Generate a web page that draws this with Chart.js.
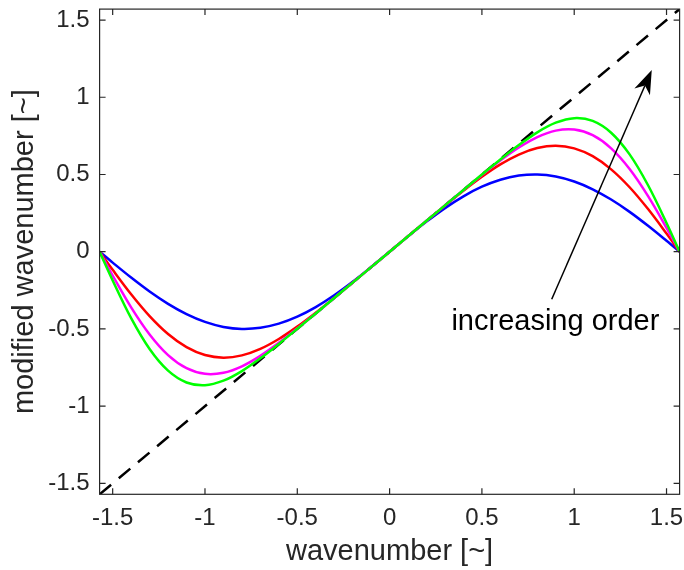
<!DOCTYPE html>
<html>
<head>
<meta charset="utf-8">
<title>modified wavenumber</title>
<script src="https://cdn.jsdelivr.net/npm/chart.js@4"></script>
<style>
  body { margin: 0; background: #fff; }
  #wrap { width: 684px; height: 570px; }
</style>
</head>
<body>
<div id="wrap"><canvas id="waveChart" width="684" height="570"></canvas></div>
<script>
// wavenumber samples (-pi/2 .. pi/2)
const waveX = [-1.5708, -1.5, -1.4, -1.3, -1.2, -1.1, -1.0, -0.9, -0.8, -0.7, -0.6, -0.5, -0.4, -0.3, -0.2, -0.1,
    0, 0.1, 0.2, 0.3, 0.4, 0.5, 0.6, 0.7, 0.8, 0.9, 1.0, 1.1, 1.2, 1.3, 1.4, 1.5, 1.5708];

// modified wavenumber for each scheme order
const order2 = [0, -0.0706, -0.1675, -0.2578, -0.3377, -0.4043, -0.4547, -0.4869, -0.4998, -0.4927, -0.4660, -0.4207, -0.3587, -0.2823, -0.1947, -0.0993,
    0, 0.0993, 0.1947, 0.2823, 0.3587, 0.4207, 0.4660, 0.4927, 0.4998, 0.4869, 0.4547, 0.4043, 0.3377, 0.2578, 0.1675, 0.0706, 0];
const order4 = [0, -0.1174, -0.2759, -0.4173, -0.5333, -0.6183, -0.6693, -0.6861, -0.6712, -0.6291, -0.5651, -0.4852, -0.3949, -0.2988, -0.1998, -0.1000,
    0, 0.1000, 0.1998, 0.2988, 0.3949, 0.4852, 0.5651, 0.6291, 0.6712, 0.6861, 0.6693, 0.6183, 0.5333, 0.4173, 0.2759, 0.1174, 0];
const order6 = [0, -0.1546, -0.3602, -0.5358, -0.6693, -0.7543, -0.7908, -0.7839, -0.7418, -0.6743, -0.5903, -0.4971, -0.3993, -0.2999, -0.2000, -0.1000,
    0, 0.1000, 0.2000, 0.2999, 0.3993, 0.4971, 0.5903, 0.6743, 0.7418, 0.7839, 0.7908, 0.7543, 0.6693, 0.5358, 0.3602, 0.1546, 0];
const order8 = [0, -0.1864, -0.4303, -0.6301, -0.7705, -0.8469, -0.8646, -0.8353, -0.7730, -0.6904, -0.5972, -0.4994, -0.3999, -0.3000, -0.2000, -0.1000,
    0, 0.1000, 0.2000, 0.3000, 0.3999, 0.4994, 0.5972, 0.6904, 0.7730, 0.8353, 0.8646, 0.8469, 0.7705, 0.6301, 0.4303, 0.1864, 0];

// exact (dashed) line
const exactX = [-1.5708, 1.5708];
const exactY = [-1.5708, 1.5708];

const xTickValues = [-1.5, -1, -0.5, 0, 0.5, 1, 1.5];
const yTickValues = [-1.5, -1, -0.5, 0, 0.5, 1, 1.5];

// annotation (data units)
const arrowFrom = [0.878, -0.308];
const arrowTo = [1.420, 1.177];
const noteAt = [0.898, -0.507];
const noteText = 'increasing order';

const FONT = '"Liberation Sans", Arial, Helvetica, sans-serif';
const AXIS_COLOR = '#262626';

function toPoints(xs, ys) {
    return xs.map((x, i) => ({ x: x, y: ys[i] }));
}

function curve(ys, color) {
    return {
        data: toPoints(waveX, ys),
        borderColor: color,
        borderWidth: 2.5,
        pointRadius: 0,
        tension: 0.33,
        fill: false
    };
}

// keep the plot box where the reference has it
function noPadding(s) {
    s.paddingLeft = 0;
    s.paddingRight = 0;
    s.paddingTop = 0;
    s.paddingBottom = 0;
}

// box, inward ticks, arrow and text
const framePlugin = {
    id: 'frame',
    afterDatasetsDraw(chart) {
        const { ctx, chartArea: a, scales } = chart;
        const sx = scales.x, sy = scales.y;
        const tick = 6;
        ctx.save();
        ctx.strokeStyle = AXIS_COLOR;
        ctx.lineWidth = 1.2;
        ctx.strokeRect(a.left, a.top, a.right - a.left, a.bottom - a.top);
        ctx.beginPath();
        xTickValues.forEach(v => {
            const px = sx.getPixelForValue(v);
            ctx.moveTo(px, a.bottom); ctx.lineTo(px, a.bottom - tick);
            ctx.moveTo(px, a.top); ctx.lineTo(px, a.top + tick);
        });
        yTickValues.forEach(v => {
            const py = sy.getPixelForValue(v);
            ctx.moveTo(a.left, py); ctx.lineTo(a.left + tick, py);
            ctx.moveTo(a.right, py); ctx.lineTo(a.right - tick, py);
        });
        ctx.stroke();

        // arrow
        const x0 = sx.getPixelForValue(arrowFrom[0]), y0 = sy.getPixelForValue(arrowFrom[1]);
        const x1 = sx.getPixelForValue(arrowTo[0]), y1 = sy.getPixelForValue(arrowTo[1]);
        const ang = Math.atan2(y1 - y0, x1 - x0);
        const ux = Math.cos(ang), uy = Math.sin(ang);
        const nx = -uy, ny = ux;
        const headLen = 24, headHalf = 8.5, notch = 17;
        ctx.strokeStyle = '#000';
        ctx.fillStyle = '#000';
        ctx.lineWidth = 1.5;
        ctx.beginPath();
        ctx.moveTo(x0, y0);
        ctx.lineTo(x1 - ux * notch, y1 - uy * notch);
        ctx.stroke();
        ctx.beginPath();
        ctx.moveTo(x1, y1);
        ctx.lineTo(x1 - ux * headLen + nx * headHalf, y1 - uy * headLen + ny * headHalf);
        ctx.lineTo(x1 - ux * notch, y1 - uy * notch);
        ctx.lineTo(x1 - ux * headLen - nx * headHalf, y1 - uy * headLen - ny * headHalf);
        ctx.closePath();
        ctx.fill();

        // text
        ctx.font = '29px ' + FONT;
        ctx.textAlign = 'center';
        ctx.textBaseline = 'alphabetic';
        ctx.fillText(noteText, sx.getPixelForValue(noteAt[0]), sy.getPixelForValue(noteAt[1]));
        ctx.restore();
    }
};

const ctx = document.getElementById('waveChart');

// dataset 0 is painted last, so the green curve sits on top and the dashed line below
new Chart(ctx, {
    type: 'line',
    data: {
        datasets: [
            curve(order8, '#00ff00'),
            curve(order6, '#ff00ff'),
            curve(order4, '#ff0000'),
            curve(order2, '#0000ff'),
            {
                data: toPoints(exactX, exactY),
                borderColor: '#000',
                borderWidth: 2.5,
                borderDash: [15, 10],
                pointRadius: 0,
                fill: false
            }
        ]
    },
    options: {
        responsive: false,
        animation: false,
        layout: {
            padding: { left: 0, top: 9.1, right: 4.4, bottom: 0 }
        },
        plugins: {
            legend: { display: false },
            tooltip: { enabled: false }
        },
        scales: {
            x: {
                type: 'linear',
                min: -1.5708,
                max: 1.5708,
                grid: { display: false, drawTicks: false },
                border: { display: false },
                afterBuildTicks: s => { s.ticks = xTickValues.map(v => ({ value: v })); },
                afterFit: s => { s.height = 75.7; noPadding(s); },
                ticks: {
                    autoSkip: false,
                    maxRotation: 0,
                    padding: 10,
                    color: AXIS_COLOR,
                    font: { family: FONT, size: 24, lineHeight: 1.2 },
                    callback: v => String(v)
                },
                title: {
                    display: true,
                    text: 'wavenumber [~]',
                    color: AXIS_COLOR,
                    padding: { top: 0, bottom: 1 },
                    font: { family: FONT, size: 29, lineHeight: 1.2 }
                }
            },
            y: {
                type: 'linear',
                min: -1.5708,
                max: 1.5708,
                grid: { display: false, drawTicks: false },
                border: { display: false },
                afterBuildTicks: s => { s.ticks = yTickValues.map(v => ({ value: v })); },
                afterFit: s => { s.width = 99.6; noPadding(s); },
                ticks: {
                    padding: 10,
                    color: AXIS_COLOR,
                    font: { family: FONT, size: 24, lineHeight: 1.2 },
                    callback: v => String(v)
                },
                title: {
                    display: true,
                    text: 'modified wavenumber [~]',
                    color: AXIS_COLOR,
                    padding: { top: 7.6, bottom: 0 },
                    font: { family: FONT, size: 29, lineHeight: 1.2 }
                }
            }
        }
    },
    plugins: [framePlugin]
});
</script>
</body>
</html>
